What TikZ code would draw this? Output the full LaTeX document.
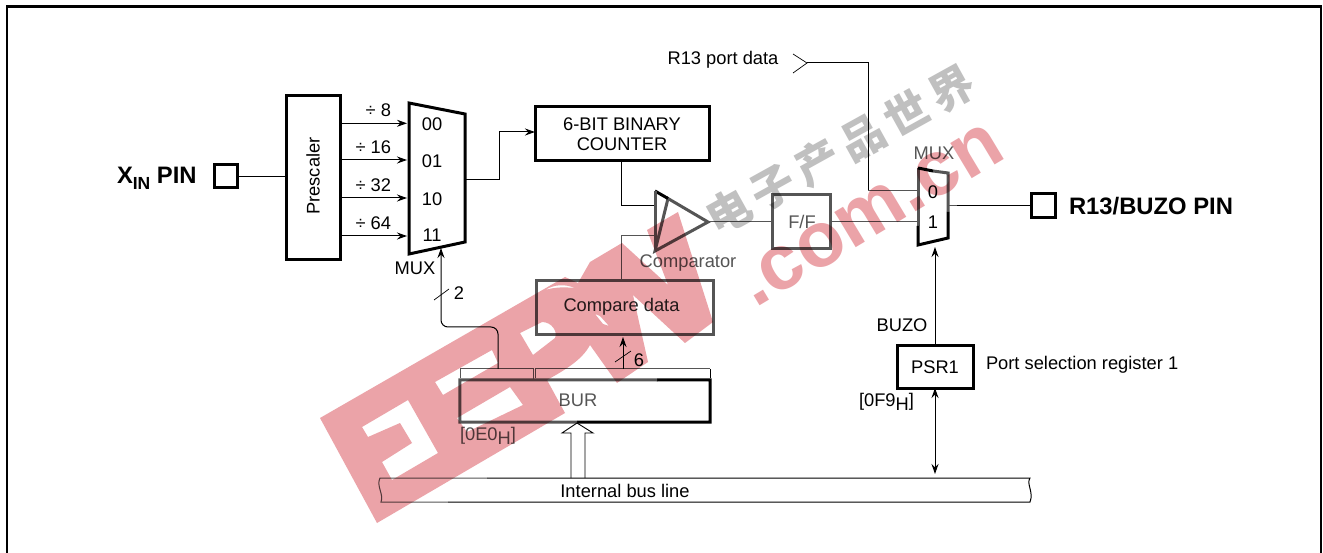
\documentclass[tikz,border=0pt]{standalone}
\usepackage{fontspec}
\setmainfont{Liberation Sans}
\newfontfamily\cjk{Noto Sans CJK SC}
\usetikzlibrary{arrows.meta}
\definecolor{inkdim}{HTML}{555555}
\definecolor{wmred}{HTML}{EBA3A8}
\definecolor{wmgray}{HTML}{C0C0C0}
\tikzset{
  thinl/.style={line width=1pt,draw=black},
  dimthin/.style={line width=1pt,draw=inkdim},
  dimheavy/.style={line width=3pt,draw=inkdim},
  arr/.style={thinl,-{Stealth[length=10pt,width=7pt]}},
  darr/.style={thinl,{Stealth[length=10pt,width=7pt]}-{Stealth[length=10pt,width=7pt]}},
  boxn/.style={draw=black,line width=3pt,inner sep=0pt,outer sep=0pt,align=center},
  dimbox/.style={boxn,draw=inkdim},
  lab/.style={inner sep=0pt,outer sep=0pt,font=\fontsize{18.3}{20}\selectfont,align=center},
  dimlab/.style={lab,text=inkdim},
  pinl/.style={inner sep=0pt,outer sep=0pt,font=\fontsize{23.8}{26}\selectfont\bfseries}
}
\begin{document}
\begin{tikzpicture}[x=1pt,y=-1pt]
\useasboundingbox (0,0) rectangle (1323,553);
\fill[white] (0,0) rectangle (1323,553);
% frame
\coordinate (fa) at (7,553); \coordinate (fb) at (7,6.5); \coordinate (fc) at (1321,6.5); \coordinate (fd) at (1321,553);
\draw[line width=2.5pt] (fa) -- (fb) -- (fc) -- (fd);
% left pin and prescaler
\node[pinl,anchor=base west] (xin) at (117,184) {X\raisebox{-5.5pt}{\fontsize{17.5}{17}\selectfont IN} PIN};
\node[boxn,minimum width=23pt,minimum height=23pt] (xsq) at (226,176.5) {};
\node[boxn,minimum width=54pt,minimum height=164pt] (presc) at (313,178) {};
\node[lab,rotate=90] (presct) at (313,176) {Prescaler};
\draw[thinl] (xsq.east) -- (presc.west |- xsq.east);
% first mux
\coordinate (ma) at (409,103); \coordinate (mb) at (465,114); \coordinate (mc) at (465,242); \coordinate (md) at (409,254);
\draw[line width=3pt,line join=miter] (ma) -- (mb) -- (mc) -- (md) -- cycle;
\node[lab] (l00) at (432,124) {00};
\node[lab] (l01) at (432,161) {01};
\node[lab] (l10) at (432,199) {10};
\node[lab] (l11) at (432,235) {11};
\node[lab,anchor=east] (d8) at (391,110) {÷ 8};
\node[lab,anchor=east] (d16) at (391,147) {÷ 16};
\node[lab,anchor=east] (d32) at (391,185) {÷ 32};
\node[lab,anchor=east] (d64) at (391,223) {÷ 64};
\coordinate (i0) at (407,123.3); \coordinate (i1) at (407,160); \coordinate (i2) at (407,198); \coordinate (i3) at (407,236);
\foreach \p in {i0,i1,i2,i3} \draw[arr] (presc.east |- \p) -- (\p);
\node[lab] (muxa) at (415,268) {MUX};
% counter
\node[boxn,minimum width=174pt,minimum height=54pt,font=\fontsize{18.3}{20}\selectfont] (cnt) at (622,134) {6-BIT BINARY\\COUNTER};
\coordinate (mo) at (465,180); \coordinate (mj) at (499,180);
\draw[arr] (mo) -- (mj) -- (mj |- 0,132) -- (cnt.west |- 0,132);
% comparator
\coordinate (ta) at (655,191); \coordinate (tb) at (708,222); \coordinate (tc) at (655,251); \coordinate (tm) at (668,198.5);
\draw[dimheavy,line join=miter] (tm) -- (tb) -- (tc) -- cycle;
\draw[line width=3pt] (ta) -- (tm);
\draw[dimheavy] (ta) -- (tc);
\node[dimlab] (cmp) at (688,263) {Comparator};
\node[dimbox,minimum width=177pt,minimum height=54pt] (cd) at (624.5,308) {};
\node[lab,text=black!85] (cdt) at (621.5,307) {Compare data};
\coordinate (ti1) at (654,206); \coordinate (ti2) at (654,236); \coordinate (cj) at (621,236);
\draw[thinl] (621,161) coordinate (cs) -- (cs |- ti1) -- (ti1);
\draw[dimthin] (ti2) -- (cj) -- (cj |- cd.north);
% BUR
\node[inner sep=0pt,minimum width=250pt,minimum height=42pt] (bur) at (585,401) {};
\node[dimlab] (burt) at (578,400) {BUR};
\draw[line width=3pt] (657,380) -- (bur.north east) -- (bur.south east) -- (577,422);
\draw[dimheavy] (657,380) -- (bur.north west) -- (bur.south west) -- (577,422);
\node[lab,anchor=west,text=inkdim] (e0) at (460,436) {[0E0\raisebox{-4pt}{H}]};
% brackets
\coordinate (bl1) at (460.5,378); \coordinate (bl2) at (460.5,369); \coordinate (bl3) at (533,369); \coordinate (bl4) at (533,379);
\coordinate (br1) at (535.5,378); \coordinate (br2) at (535.5,369); \coordinate (br3) at (710,369); \coordinate (br4) at (710,378);
\draw[dimthin] (bl1) -- (bl2) -- (bl3) -- (bl4);
\draw[dimthin] (br1) -- (br2) -- (br3);
\draw[thinl] (br3) -- (br4);
% bus 6 arrow
\coordinate (six0) at (623,369); \coordinate (six1) at (623,337);
\draw[arr] (six0) -- (six1);
\coordinate (tk6a) at (615,362); \coordinate (tk6b) at (631,351);
\draw[line width=.7pt] (tk6a) -- (tk6b);
\node[lab] (n6) at (639,360) {6};
% bus 2 line
\coordinate (two0) at (498,369); \coordinate (two1) at (498,327); \coordinate (two2) at (441,327); \coordinate (two3) at (441,248);
\draw[arr,rounded corners=7pt] (two0) -- (two1) -- (two2) -- (two3);
\coordinate (tk2a) at (434,300); \coordinate (tk2b) at (449,289);
\draw[line width=.7pt] (tk2a) -- (tk2b);
\node[lab] (n2) at (459,293) {2};
% hollow arrow
\coordinate (ha) at (571,478); \coordinate (hb) at (571,433); \coordinate (hc) at (562,433); \coordinate (hd) at (577,423); \coordinate (he) at (593,433); \coordinate (hf) at (585,433); \coordinate (hg) at (585,478);
\draw[line width=.9pt,line join=miter] (ha) -- (hb) -- (hc) -- (hd) -- (he) -- (hf) -- (hg);
% internal bus
\coordinate (bus1) at (380,478); \coordinate (bus1m) at (487,478); \coordinate (bus2) at (1030,478); \coordinate (bus3) at (1030,502); \coordinate (bus4m) at (448,502); \coordinate (bus4) at (381,502);
\draw[thinl] (bus1m) -- (bus2) .. controls (1026,484) and (1034,492) .. (bus3) -- (bus4m);
\draw[dimthin] (bus4m) -- (bus4) .. controls (384,494) and (376,486) .. (bus1) -- (bus1m);
\node[lab] (ibl) at (625,491) {Internal bus line};
% R13 port data
\node[lab] (r13) at (723,60) {R13 port data};
\coordinate (cha) at (793,54); \coordinate (chb) at (807,63); \coordinate (chc) at (793,73);
\draw[line width=.7pt,line join=miter] (cha) -- (chb) -- (chc);
\coordinate (rj1) at (868,63); \coordinate (rj2) at (868,191); \coordinate (rj3) at (918,191);
\draw[thinl] (chb) -- (rj1) -- (rj2);
\draw[dimthin] (rj2) -- (rj3);
% mux 2
\coordinate (na) at (918,168); \coordinate (nb) at (948,173); \coordinate (nc) at (948,238); \coordinate (nd) at (918,245); \coordinate (nt) at (933,171); \coordinate (nl) at (918,226); \coordinate (nr) at (948,212);
\draw[dimheavy] (nt) -- (nb) -- (nr);
\draw[dimheavy] (na) -- (nl);
\draw[line width=3pt,line join=miter] (nt) -- (na);
\draw[line width=3pt,line join=miter] (nr) -- (nc) -- (nd) -- (nl);
\node[dimlab] (muxb) at (934,153) {MUX};
\node[lab] (z0) at (933,192) {0};
\node[lab] (z1) at (933,222) {1};
% F/F
\node[dimbox,minimum width=58pt,minimum height=54pt] (ff) at (801,222) {};
\node[dimlab] (fft) at (802,222) {F/F};
\coordinate (ni1) at (918,222);
\draw[dimthin] (tb) -- (ff.west);
\draw[dimthin] (ff.east) -- (ni1);
% right pin
\node[boxn,minimum width=24pt,minimum height=24pt] (rsq) at (1043,206) {};
\coordinate (no) at (949,206); \coordinate (no2) at (957,206);
\draw[dimthin] (no) -- (no2);
\draw[thinl] (no2) -- (rsq.west);
\node[pinl,anchor=west] (rpin) at (1069,206) {R13/BUZO PIN};
% PSR1
\node[boxn,minimum width=76pt,minimum height=42pt,font=\fontsize{18.3}{20}\selectfont] (psr) at (935,367) {PSR1};
\coordinate (up) at (935,247);
\draw[arr] (psr.north) -- (up);
\node[lab] (buzo) at (902,325) {BUZO};
\node[lab,anchor=west] (psrt) at (986,365) {Port selection register 1};
\node[lab,anchor=west] (f9) at (859,402) {[0F9\raisebox{-4pt}{H}]};
\coordinate (dbl) at (935,474);
\draw[darr] (psr.south) -- (dbl);
% watermark, multiplied over the drawing
\begin{scope}[blend mode=multiply]
\fill[wmred,even odd rule]
  (320,418) -- (565,277) -- (578,283) -- (590,262) -- (622,243) -- (668,285) -- (647,230) -- (678,212) -- (713,322) -- (685,343) -- (633,295) -- (648,362) -- (617,383) -- (590,345)
  .. controls (582,360) and (565,370) .. (547,380) -- (565,413) -- (377,523) -- cycle
  (362,427) -- (408,400) -- (438,453) -- (392,480) -- (382,462) -- (412,443) -- (400,423) -- (368,437) -- cycle
  (435,382) -- (492,350) -- (498,363) -- (443,395) -- cycle
  (457,418) -- (510,387) -- (523,405) -- (467,432) -- cycle
  (520,333) -- (542,322) .. controls (552,322) and (558,332) .. (555,338) -- (533,355) -- cycle
  (545,290) .. controls (555,284) and (565,284) .. (575,288) .. controls (565,287) and (555,287) .. (545,290) -- cycle
  (595,314) -- (600,316) -- (609,326) -- (603,324) -- cycle;
\node[rotate=31,inner sep=0pt,text=wmred,font=\fontsize{78}{78}\selectfont\bfseries] (wmcom) at (871,215) {.com.cn};
\node[rotate=29,inner sep=0pt,text=wmgray,font=\fontsize{44}{46}\selectfont\bfseries] (wmcn) at (840,150) {\cjk 电\kern7pt 子\kern7pt 产\kern7pt 品\kern7pt 世\kern7pt 界};
\end{scope}
\end{tikzpicture}
\end{document}
